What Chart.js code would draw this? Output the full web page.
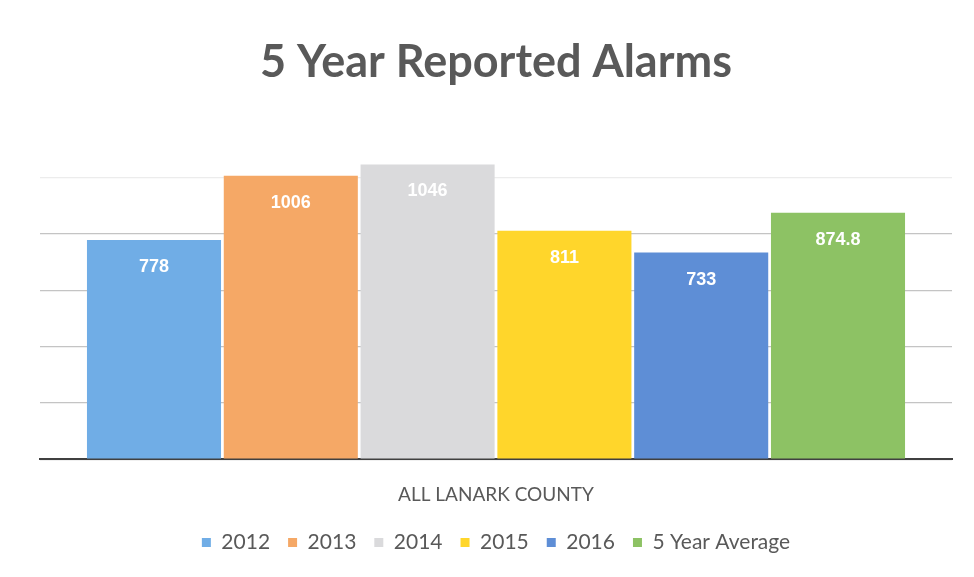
<!DOCTYPE html>
<html>
<head>
<meta charset="utf-8">
<script src="https://cdn.jsdelivr.net/npm/chart.js@4/dist/chart.umd.min.js"></script>
<style>
  html, body { margin: 0; padding: 0; background: #ffffff; }
  #wrap { width: 974px; height: 577px; }
</style>
</head>
<body>
<div id="wrap"><canvas id="c" width="974" height="577"></canvas></div>
<script>
const categories = ["ALL LANARK COUNTY"];
const seriesNames = ["2012", "2013", "2014", "2015", "2016", "5 Year Average"];
const values2012 = [778];
const values2013 = [1006];
const values2014 = [1046];
const values2015 = [811];
const values2016 = [733];
const valuesAverage = [874.8];
const seriesColors = ["#70ADE6", "#F5A866", "#DADADC", "#FFD62B", "#5E8ED6", "#8DC264"];
const chartTitle = "5 Year Reported Alarms";

const allValues = [values2012, values2013, values2014, values2015, values2016, valuesAverage];

const labelPlugin = {
  id: 'barLabels',
  afterDatasetsDraw(chart) {
    const ctx = chart.ctx;
    ctx.save();
    ctx.fillStyle = '#ffffff';
    ctx.font = 'bold 18px "Liberation Sans", Arial, sans-serif';
    ctx.textAlign = 'center';
    ctx.textBaseline = 'middle';
    chart.data.datasets.forEach((ds, i) => {
      const meta = chart.getDatasetMeta(i);
      meta.data.forEach((el, j) => {
        ctx.fillText(String(ds.data[j]), el.x, el.y + 27);
      });
    });
    ctx.restore();
  }
};

new Chart(document.getElementById('c'), {
  type: 'bar',
  data: {
    labels: categories,
    datasets: seriesNames.map((name, i) => ({
      label: name,
      data: allValues[i],
      backgroundColor: seriesColors[i],
      borderWidth: 0,
      barPercentage: 0.98,
      categoryPercentage: 0.9
    }))
  },
  options: {
    responsive: false,
    animation: false,
    layout: { padding: { left: 40, right: 22, top: 0, bottom: 14 } },
    plugins: {
      title: {
        display: true,
        text: chartTitle,
        color: '#595959',
        font: { family: 'Lato, sans-serif', size: 45, weight: 'bold' },
        padding: { top: 35, bottom: 32 }
      },
      legend: {
        position: 'bottom',
        labels: {
          color: '#595959',
          font: { family: 'Lato, sans-serif', size: 21 },
          boxWidth: 9,
          boxHeight: 9,
          padding: 18
        }
      },
      tooltip: { enabled: false }
    },
    scales: {
      x: {
        grid: { display: false, drawTicks: false },
        border: { display: true, color: '#404040', width: 2 },
        ticks: {
          color: '#595959',
          font: { family: 'Lato, sans-serif', size: 19 },
          padding: 24
        },
        afterFit(scale) { scale.height -= 16; }
      },
      y: {
        min: 0,
        max: 1200,
        ticks: { display: false, stepSize: 200 },
        border: { display: false },
        grid: {
          drawTicks: false,
          color: (c) => c.tick.value === 1200 ? 'rgba(0,0,0,0)' : (c.tick.value === 1000 ? '#ececec' : '#c4c4c4'),
          lineWidth: 1.2
        }
      }
    }
  },
  plugins: [labelPlugin]
});
</script>
</body>
</html>
